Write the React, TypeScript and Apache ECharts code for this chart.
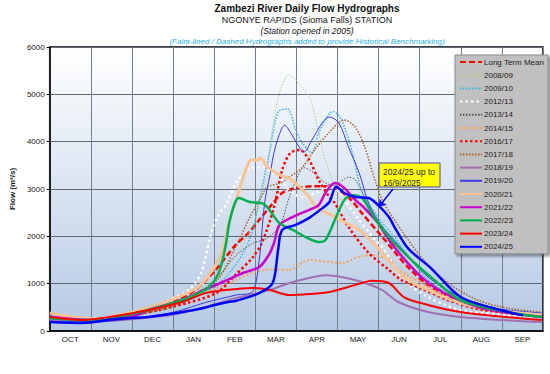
import React, { useEffect, useRef } from "react";
import * as echarts from "echarts";

const months = ["OCT", "NOV", "DEC", "JAN", "FEB", "MAR", "APR", "MAY", "JUN", "JUL", "AUG", "SEP"];
const yTicks = [0, 1000, 2000, 3000, 4000, 5000, 6000];

// [day since 1 Oct, flow m3/s]
const ltm = [[0,290],[15,260],[31,240],[46,270],[61,330],[77,450],[92,620],[107,850],[123,1300],[137,1800],[147,2070],[155,2345],[164,2660],[172,2915],[182,3020],[196,3060],[211,3020],[222,2800],[231,2490],[246,1990],[265,1350],[282,930],[304,620],[320,480],[335,400],[364,300]];
const y0809 = [[0,260],[31,230],[61,320],[92,600],[123,1100],[140,1700],[151,2300],[157,2900],[161,3400],[165,4310],[170,5030],[177,5410],[187,5135],[193,4880],[198,4310],[204,3610],[211,3040],[221,2500],[231,2130],[243,1775],[262,1290],[282,900],[304,600],[335,400],[364,320]];
const y0910 = [[0,250],[31,230],[61,320],[92,520],[123,950],[140,1500],[150,2100],[154,2620],[163,3825],[169,4630],[176,4690],[182,4250],[187,3970],[194,3760],[199,4180],[207,4600],[210,4630],[216,4460],[224,3760],[231,2950],[243,2400],[255,1990],[280,1080],[304,655],[335,450],[364,380]];
const y1213 = [[0,280],[31,230],[61,320],[83,590],[93,718],[103,866],[112,1225],[120,2134],[125,2450],[131,2700],[138,3127],[148,3440],[156,3465],[163,3380],[170,3254],[177,2980],[187,2830],[196,2915],[207,3040],[211,3020],[220,2700],[229,2345],[241,1920],[246,1775],[262,1080],[280,718],[304,444],[335,340],[364,300]];
const y1314 = [[0,230],[31,220],[61,320],[92,550],[110,800],[123,1100],[138,1600],[150,1850],[160,1950],[170,2200],[177,2800],[184,3300],[188,3450],[196,3330],[204,3130],[211,3080],[221,3250],[226,3200],[235,2700],[246,2100],[262,1500],[282,1000],[304,650],[335,430],[364,330]];
const y1415 = [[0,300],[31,260],[61,330],[92,550],[123,900],[138,1080],[150,1225],[163,1300],[177,1290],[192,1500],[207,1460],[216,1437],[229,1570],[238,1600],[251,1500],[258,1290],[275,1014],[295,700],[320,450],[364,300]];
const y1617 = [[0,280],[31,250],[61,340],[92,520],[123,800],[138,1200],[150,1550],[157,1860],[166,2620],[172,3400],[178,3760],[185,3825],[192,3613],[199,3190],[207,2830],[211,2700],[221,2200],[236,1650],[251,1290],[260,1080],[275,900],[295,650],[320,450],[364,320]];
const y1718 = [[0,260],[31,230],[61,330],[92,550],[123,1050],[138,1800],[148,2400],[155,2750],[161,3040],[170,3120],[177,3250],[187,3460],[196,3830],[207,4200],[218,4460],[226,4310],[233,3890],[240,3250],[246,2770],[255,2350],[275,1560],[295,1010],[317,650],[340,480],[364,400]];
const y1819 = [[0,220],[31,200],[61,250],[92,350],[114,500],[138,700],[163,870],[177,1010],[192,1120],[204,1180],[216,1140],[231,1035],[246,866],[258,613],[280,400],[304,296],[335,230],[364,190]];
const y1920 = [[0,200],[31,190],[61,260],[92,400],[115,600],[138,760],[150,830],[155,1500],[159,2700],[163,3300],[167,3890],[174,4350],[178,4200],[185,3870],[188,3780],[194,4035],[202,4415],[207,4520],[214,4395],[221,3890],[229,3340],[236,2700],[245,2250],[255,1920],[280,1140],[304,718],[328,486],[364,380]];
const y2021 = [[0,380],[31,260],[61,400],[86,613],[100,780],[110,930],[122,1350],[128,1710],[133,2345],[138,2770],[145,3400],[149,3613],[154,3613],[156,3655],[161,3465],[170,3296],[177,3233],[185,3040],[192,2830],[197,2620],[205,2500],[215,2350],[231,2090],[246,1650],[262,1140],[280,866],[304,591],[335,420],[364,340]];
const y2122 = [[0,300],[31,230],[61,300],[73,444],[92,600],[103,718],[114,866],[128,1035],[143,1225],[155,1350],[162,1600],[166,1860],[170,2240],[180,2410],[192,2560],[199,2660],[204,2915],[211,3127],[218,3020],[226,2770],[231,2650],[243,2280],[255,1775],[275,1140],[292,803],[317,507],[340,380],[364,296]];
const y2223 = [[0,275],[24,232],[49,296],[73,444],[98,655],[117,910],[125,1225],[130,1775],[133,2300],[137,2700],[140,2810],[148,2725],[158,2690],[170,2280],[180,2134],[189,1990],[199,1880],[204,1920],[211,2345],[218,2770],[224,2870],[231,2810],[240,2410],[251,1990],[255,1860],[270,1437],[282,1140],[304,655],[335,420],[364,296]];
const y2324 = [[0,296],[24,232],[49,317],[73,444],[98,613],[115,800],[130,866],[150,910],[163,866],[177,760],[192,780],[207,824],[221,930],[231,1014],[238,1060],[251,1014],[262,718],[280,550],[304,400],[335,300],[364,232]];
const y2425 = [[0,190],[24,170],[49,254],[73,296],[98,400],[114,486],[122,550],[132,613],[138,640],[155,800],[165,1014],[169,1710],[172,2134],[182,2240],[192,2390],[202,2600],[207,2725],[212,3050],[218,2915],[226,2830],[236,2810],[243,2660],[251,2410],[255,2200],[265,1750],[282,1330],[304,718],[328,486],[350,330]];

const seriesDefs = [
  { name: "Long Term Mean", data: ltm, color: "#ff0000", width: 2.5, type: [6, 3] },
  { name: "2008/09", data: y0809, color: "#b4c98c", width: 1, type: [1.5, 1.5] },
  { name: "2009/10", data: y0910, color: "#3cb4e8", width: 1.5, type: [1.5, 1.5] },
  { name: "2012/13", data: y1213, color: "#ffffff", width: 2.5, type: [2.5, 3] },
  { name: "2013/14", data: y1314, color: "#555555", width: 1, type: [1.5, 1.5] },
  { name: "2014/15", data: y1415, color: "#f5a35f", width: 2, type: [2, 2] },
  { name: "2016/17", data: y1617, color: "#ff0000", width: 2.5, type: [2.5, 2.5] },
  { name: "2017/18", data: y1718, color: "#a8642c", width: 1.5, type: [1.5, 1.5] },
  { name: "2018/19", data: y1819, color: "#a070b0", width: 2, type: "solid" },
  { name: "2019/20", data: y1920, color: "#3a3ae6", width: 1, type: "solid" },
  { name: "2020/21", data: y2021, color: "#fac394", width: 3, type: "solid" },
  { name: "2021/22", data: y2122, color: "#cc00cc", width: 2.5, type: "solid" },
  { name: "2022/23", data: y2223, color: "#00b050", width: 2.5, type: "solid" },
  { name: "2023/24", data: y2324, color: "#ff0000", width: 2, type: "solid" },
  { name: "2024/25", data: y2425, color: "#0000ff", width: 2.5, type: "solid" },
];

const FONT = "Liberation Sans, Arial, sans-serif";

export default function App() {
  const ref = useRef<HTMLDivElement>(null);
  useEffect(() => {
    if (!ref.current) return;
    const chart = echarts.init(ref.current, undefined, { renderer: "svg" });
    const series: any[] = seriesDefs.map((s) => ({
      name: s.name,
      type: "line",
      xAxisIndex: 0,
      data: s.data,
      symbol: "none",
      showSymbol: false,
      smooth: 0.3,
      color: s.color,
      lineStyle: { color: s.color, width: s.width, type: s.type },
      emphasis: { disabled: true },
    }));
    series[series.length - 1].markLine = {
      silent: true,
      animation: false,
      symbolSize: 7,
      label: { show: false },
      lineStyle: { color: "#0000ff", width: 1.5, type: "solid" },
      data: [[{ coord: [254, 3000], symbol: "none" }, { coord: [243.5, 2620], symbol: "arrow" }]],
    };
    chart.setOption({
      animation: false,
      textStyle: { fontFamily: FONT },
      grid: {
        left: 45, right: 7, top: 47, bottom: 43, show: true,
        borderColor: "#000", borderWidth: 1.5,
        backgroundColor: new echarts.graphic.LinearGradient(0, 0, 0, 1, [
          { offset: 0, color: "#ffffff" },
          { offset: 1, color: "#b5c9e4" },
        ]),
      },
      xAxis: [
        { type: "value", min: 0, max: 365, show: false, splitLine: { show: false } },
        {
          type: "category", data: months, boundaryGap: true, position: "bottom",
          axisLine: { show: true, lineStyle: { color: "#000", width: 1.5 } },
          axisTick: { show: false },
          axisLabel: { fontSize: 8, color: "#222", margin: 4, fontFamily: FONT },
          splitLine: { show: true, lineStyle: { color: "#737e8c", width: 1 } },
        },
      ],
      yAxis: {
        type: "value", min: 0, max: 6000, interval: 1000,
        name: "Flow (m\u00b3/s)", nameLocation: "middle", nameGap: 25,
        nameTextStyle: { fontSize: 8, fontWeight: "bold", color: "#222", fontFamily: FONT },
        axisLine: { show: true, lineStyle: { color: "#000", width: 1.5 } },
        axisTick: { show: true, length: 3, lineStyle: { color: "#000" } },
        axisLabel: { fontSize: 8, color: "#222", margin: 5, fontFamily: FONT,
          formatter: (v: number) => (yTicks.includes(v) ? String(v) : "") },
        splitLine: { show: true, lineStyle: { color: "#5f6978", width: 1 } },
      },
      legend: {
        orient: "vertical", left: 455, top: 55,
        padding: [3, 4, 3, 4], itemWidth: 22, itemHeight: 8, itemGap: 5.2,
        backgroundColor: "#c0c0c0", borderColor: "#8a8a8a", borderWidth: 1,
        shadowBlur: 3, shadowColor: "rgba(0,0,0,0.45)", shadowOffsetX: 2, shadowOffsetY: 2,
        itemStyle: { opacity: 0, borderWidth: 0 },
        textStyle: { fontSize: 8, color: "#222", fontFamily: FONT, padding: [0, 0, 0, -3] },
        data: seriesDefs.map((s) => s.name),
        selectedMode: false,
      },
      graphic: [
        { type: "text", x: 307, y: 3, style: { text: "Zambezi River Daily Flow Hydrographs", font: `bold 10px ${FONT}`, fill: "#111", textAlign: "center" } },
        { type: "text", x: 307, y: 15, style: { text: "NGONYE RAPIDS (Sioma Falls) STATION", font: `9px ${FONT}`, fill: "#111", textAlign: "center" } },
        { type: "text", x: 307, y: 26, style: { text: "(Station opened in 2005)", font: `italic 8.5px ${FONT}`, fill: "#111", textAlign: "center" } },
        { type: "text", x: 307, y: 37, style: { text: "(Faint-lined / Dashed Hydrographs added to provide Historical Benchmarking)", font: `italic 8px ${FONT}`, fill: "#2ab0e8", textAlign: "center" } },
        { type: "rect", shape: { x: 379, y: 163, width: 61, height: 24 }, style: { fill: "#ffff00", stroke: "#4a4aa0", lineWidth: 1 }, z: 100 },
        { type: "text", x: 383, y: 166, z: 101, style: { text: "2024/25 up to\n16/9/2025", font: `8.5px ${FONT}`, fill: "#1e1e60", lineHeight: 11 } },
      ],
      series,
    });
    return () => chart.dispose();
  }, []);
  return <div ref={ref} style={{ width: 550, height: 374, position: "absolute", left: 0, top: 0 }} />;
}
